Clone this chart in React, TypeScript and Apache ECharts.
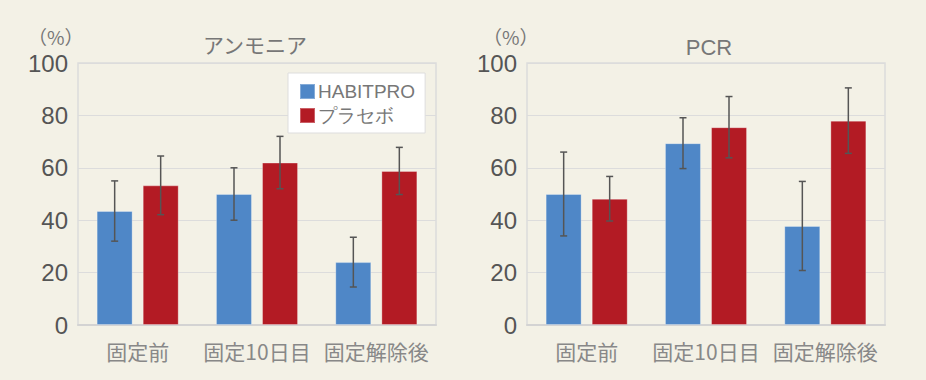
import React, { useEffect, useRef } from "react";
import * as echarts from "echarts";

const categories = ["固定前", "固定10日目", "固定解除後"];
const seriesNames = ["HABITPRO", "プラセボ"];
const yTicks = [0, 20, 40, 60, 80, 100];

const ammoniaHabit = [43.5, 50.0, 24.0];
const ammoniaHabitErr = [11.5, 10.0, 9.5];
const ammoniaPlacebo = [53.3, 62.0, 58.8];
const ammoniaPlaceboErr = [11.2, 10.0, 9.0];

const pcrHabit = [50.0, 69.4, 37.8];
const pcrHabitErr = [16.0, 9.7, 17.0];
const pcrPlacebo = [48.2, 75.5, 78.0];
const pcrPlaceboErr = [8.5, 11.7, 12.5];

const titles = ["アンモニア", "PCR"];

const BLUE = "#4f87c7";
const RED = "#b31b24";
const BG = "#f3f1e6";

export default function App() {
  const ref = useRef<HTMLDivElement>(null);
  useEffect(() => {
    document.body.style.margin = "0";
    const chart = echarts.init(ref.current!, null, { renderer: "svg" });
    const grids = [
      { left: 78, right: 490, top: 63, bottom: 55 },
      { left: 527, right: 41, top: 63, bottom: 55 },
    ];
    const data = [
      [ammoniaHabit, ammoniaHabitErr, ammoniaPlacebo, ammoniaPlaceboErr],
      [pcrHabit, pcrHabitErr, pcrPlacebo, pcrPlaceboErr],
    ];
    const barOffset = 23;
    const errRender = (dir: number) => (params: any, api: any) => {
      const c = api.coord([api.value(0), api.value(1)]);
      const err = api.value(2);
      const top = api.coord([api.value(0), api.value(1) + err]);
      const bot = api.coord([api.value(0), api.value(1) - err]);
      const x = c[0] + dir * barOffset;
      const cap = 3.5;
      const style = { stroke: "#555555", lineWidth: 1.5 };
      return {
        type: "group",
        children: [
          { type: "line", shape: { x1: x, y1: top[1], x2: x, y2: bot[1] }, style },
          { type: "line", shape: { x1: x - cap, y1: top[1], x2: x + cap, y2: top[1] }, style },
          { type: "line", shape: { x1: x - cap, y1: bot[1], x2: x + cap, y2: bot[1] }, style },
        ],
      };
    };
    const series: any[] = [];
    data.forEach((d, gi) => {
      series.push({
        type: "bar",
        name: seriesNames[0],
        xAxisIndex: gi,
        yAxisIndex: gi,
        data: d[0],
        barWidth: 36,
        barGap: "28%",
        itemStyle: { color: BLUE, borderColor: "rgba(255,255,255,0.3)", borderWidth: 1 },
      });
      series.push({
        type: "bar",
        name: seriesNames[1],
        xAxisIndex: gi,
        yAxisIndex: gi,
        data: d[2],
        barWidth: 36,
        barGap: "28%",
        itemStyle: { color: RED, borderColor: "rgba(255,255,255,0.3)", borderWidth: 1 },
      });
      series.push({
        type: "custom",
        xAxisIndex: gi,
        yAxisIndex: gi,
        renderItem: errRender(-1),
        data: d[0].map((v, i) => [i, v, d[1][i]]),
        z: 10,
        silent: true,
      });
      series.push({
        type: "custom",
        xAxisIndex: gi,
        yAxisIndex: gi,
        renderItem: errRender(1),
        data: d[2].map((v, i) => [i, v, d[3][i]]),
        z: 10,
        silent: true,
      });
    });
    chart.setOption({
      animation: false,
      backgroundColor: BG,
      title: [
        {
          text: titles[0],
          left: 250,
          top: 28,
          textAlign: "center",
          textStyle: { fontSize: 21, fontWeight: "normal", color: "#777777", fontFamily: "Noto Sans CJK JP" },
        },
        {
          text: titles[1],
          left: 704,
          top: 31,
          textAlign: "center",
          textStyle: { fontSize: 22, fontWeight: "normal", color: "#777777", fontFamily: "Liberation Sans" },
        },
        {
          text: "（%）",
          left: 23,
          top: 22,
          textStyle: { fontSize: 19, fontWeight: "normal", color: "#777777", fontFamily: "Noto Sans CJK JP" },
        },
        {
          text: "（%）",
          left: 478,
          top: 22,
          textStyle: { fontSize: 19, fontWeight: "normal", color: "#777777", fontFamily: "Noto Sans CJK JP" },
        },
      ],
      legend: {
        data: seriesNames,
        orient: "vertical",
        left: 288,
        top: 73,
        width: 136,
        backgroundColor: "#ffffff",
        borderColor: "#dddddd",
        borderWidth: 1,
        padding: [9, 10, 8, 11],
        itemWidth: 15,
        itemHeight: 15,
        itemGap: 5,
        icon: "rect",
        textStyle: { fontSize: 19, color: "#777777", fontFamily: "Liberation Sans", padding: [0, 0, 0, -2] },
      },
      grid: grids.map((g) => ({
        ...g,
        show: true,
        borderColor: "#dcdcdc",
        borderWidth: 1.5,
        backgroundColor: "transparent",
      })),
      xAxis: grids.map((_, gi) => ({
        type: "category",
        gridIndex: gi,
        data: categories,
        axisLine: { show: true, lineStyle: { color: "#d3d3d3", width: 2 } },
        axisTick: { show: false },
        axisLabel: {
          interval: 0,
          fontSize: 21,
          color: "#888888",
          margin: 15,
          fontFamily: "Noto Sans CJK JP",
        },
      })),
      yAxis: grids.map((_, gi) => ({
        type: "value",
        gridIndex: gi,
        min: yTicks[0],
        max: yTicks[yTicks.length - 1],
        interval: 20,
        axisLine: { show: false },
        axisTick: { show: false },
        splitLine: { lineStyle: { color: "#dcdcdc", width: 1 } },
        axisLabel: {
          fontSize: 24,
          color: "#555555",
          margin: 10,
          fontFamily: "Liberation Sans",
        },
      })),
      series,
    });
    return () => chart.dispose();
  }, []);
  return (
    <div
      ref={ref}
      style={{ position: "absolute", left: 0, top: 0, width: 926, height: 380 }}
    />
  );
}
